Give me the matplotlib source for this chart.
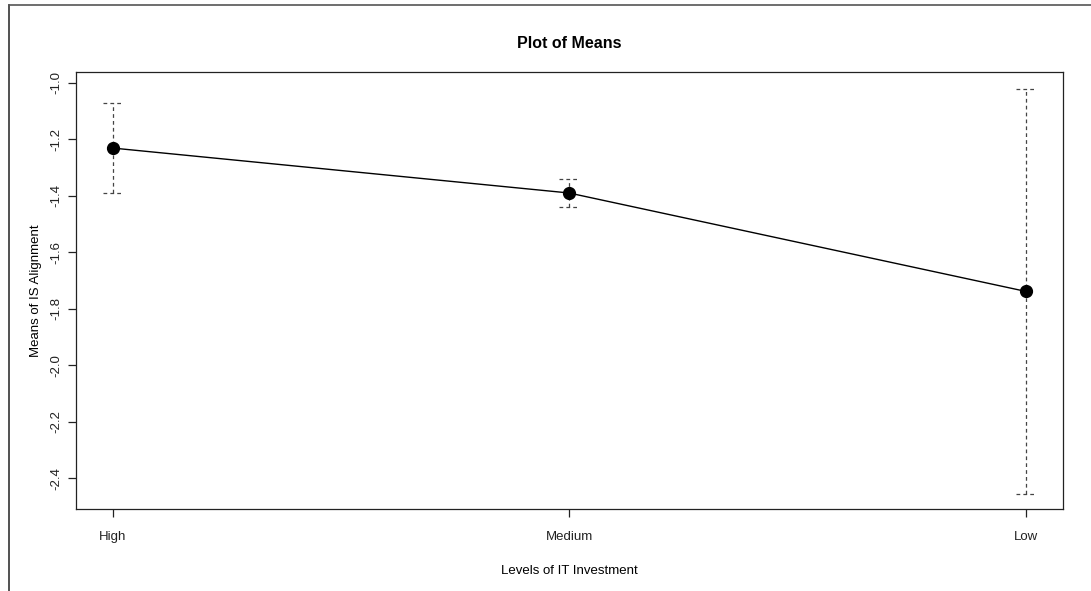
"""Plot of means with dashed interval bars for IS alignment by IT investment level."""
import matplotlib.pyplot as plt
from matplotlib.lines import Line2D

plt.rcParams["font.family"] = ["Liberation Sans", "DejaVu Sans"]

LEVELS = ["High", "Medium", "Low"]
MEANS = [-1.231, -1.390, -1.738]
HALF_WIDTH = [0.158, 0.051, 0.717]
Y_TICKS = [-1.0, -1.2, -1.4, -1.6, -1.8, -2.0, -2.2, -2.4]


def main() -> None:
    fig = plt.figure(figsize=(10.91, 5.91), dpi=100)
    W, H = 1091, 591
    ax = fig.add_axes([76 / W, 1 - 509 / H, (1063 - 76) / W, (509 - 72) / H])

    xs = list(range(1, len(LEVELS) + 1))
    lo = [m - h for m, h in zip(MEANS, HALF_WIDTH)]
    hi = [m + h for m, h in zip(MEANS, HALF_WIDTH)]
    cap = 0.021

    dash = (0, (3, 2.5))
    ax.vlines(xs, lo, hi, colors="#444444", linestyles=dash, lw=0.9)
    ax.hlines(hi, [x - cap for x in xs], [x + cap for x in xs],
              colors="#444444", linestyles=dash, lw=0.9)
    ax.hlines(lo, [x - cap for x in xs], [x + cap for x in xs],
              colors="#444444", linestyles=dash, lw=0.9)
    ax.plot(xs, MEANS, color="black", lw=1.0, marker="o", ms=8.5,
            mfc="black", mec="black", zorder=3)

    ax.set_xlim(0.92, 3.082)
    ax.set_ylim(-2.508, -0.962)
    ax.set_xticks(xs)
    ax.set_xticklabels(LEVELS)
    ax.set_yticks(Y_TICKS)
    ax.set_yticklabels([f"{v:.1f}" for v in Y_TICKS], rotation=90, va="center")
    ax.tick_params(axis="both", direction="out", length=5.8, width=0.9,
                   labelsize=9.5, colors="#222222")
    ax.tick_params(axis="x", pad=10)
    ax.tick_params(axis="y", pad=4)
    for sp in ax.spines.values():
        sp.set_linewidth(0.9)
        sp.set_color("#222222")

    ax.set_title("Plot of Means", fontsize=11.5, fontweight="bold", pad=17)
    ax.set_xlabel("Levels of IT Investment", fontsize=9.5, labelpad=16)
    ax.set_ylabel("Means of IS Alignment", fontsize=9.5, labelpad=6)

    # outer frame: top and left edges only
    fig.add_artist(Line2D([9 / W, 9 / W], [0, 1 - 5 / H], color="#333333", lw=1.2))
    fig.add_artist(Line2D([9 / W, 1], [1 - 5 / H, 1 - 5 / H], color="#555555", lw=1.2))

    fig.savefig("out.png", dpi=100)
    plt.close(fig)


if __name__ == "__main__":
    main()
